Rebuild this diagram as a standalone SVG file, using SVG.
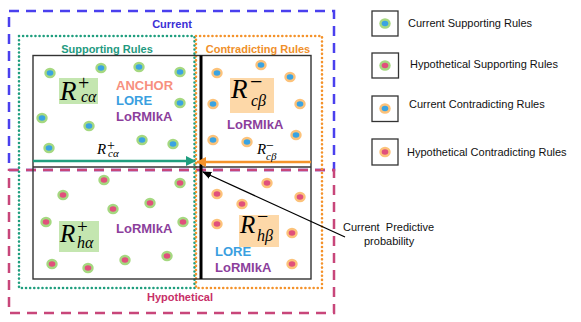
<svg xmlns="http://www.w3.org/2000/svg" width="581" height="322" viewBox="0 0 581 322">
<style>
.lbl{font-family:"Liberation Sans",Arial,sans-serif;font-weight:bold;font-size:11px}
.mth{font-family:"Liberation Serif","Times New Roman",serif;font-style:italic;fill:#000}
.op{font-style:normal}
.meth{font-family:"Liberation Sans",Arial,sans-serif;font-weight:bold;font-size:13px}
.leg{font-family:"Liberation Sans",Arial,sans-serif;font-size:11px;fill:#111}
.frame{fill:none;stroke:#333;stroke-width:1.4}
.dashB{fill:none;stroke:#4a40ee;stroke-width:2.5;stroke-dasharray:10 7}
.dashP{fill:none;stroke:#c8467a;stroke-width:2.5;stroke-dasharray:10 7}
.dotG{fill:none;stroke:#1f9e7e;stroke-width:2.6;stroke-linecap:round;stroke-dasharray:0.01 4.1}
.dotO{fill:none;stroke:#f4922a;stroke-width:2.6;stroke-linecap:round;stroke-dasharray:0.01 4.1}
.legbox{fill:#fff;stroke:#333;stroke-width:1.3}
</style>
<defs>
<g id="d-cs"><ellipse rx="5.7" ry="5.3" fill="#a5d880"/><ellipse rx="3.3" ry="2.7" fill="#3aa3e2"/></g>
<g id="d-hs"><ellipse rx="5.7" ry="5.3" fill="#a5d880"/><ellipse rx="3.3" ry="2.7" fill="#e0507c"/></g>
<g id="d-cc"><ellipse rx="5.7" ry="5.3" fill="#fcc27a"/><ellipse rx="3.3" ry="2.7" fill="#3aa3e2"/></g>
<g id="d-hc"><ellipse rx="5.7" ry="5.3" fill="#fcc27a"/><ellipse rx="3.3" ry="2.7" fill="#e0507c"/></g>
<marker id="ahG" viewBox="0 0 10 10" refX="9" refY="5" markerWidth="4" markerHeight="4" orient="auto" markerUnits="strokeWidth"><path d="M0,0 L10,5 L0,10 z" fill="#1f9e7e"/></marker>
<marker id="ahO" viewBox="0 0 10 10" refX="9" refY="5" markerWidth="4" markerHeight="4" orient="auto" markerUnits="strokeWidth"><path d="M0,0 L10,5 L0,10 z" fill="#f4922a"/></marker>
<marker id="ahK" viewBox="0 0 10 10" refX="9" refY="5" markerWidth="7" markerHeight="7" orient="auto" markerUnits="strokeWidth"><path d="M0,1 L10,5 L0,9 z" fill="#000"/></marker>
</defs>
<rect width="581" height="322" fill="#fff"/>

<g id="current-region">
<rect class="dashB" x="9" y="11" width="325" height="159"/>
<text class="lbl" x="172" y="28" text-anchor="middle" fill="#3b2fd6">Current</text>
</g>
<g id="hypothetical-region">
<rect class="dashP" x="9" y="170" width="325" height="143"/>
<text class="lbl" x="180" y="301" text-anchor="middle" fill="#c83068">Hypothetical</text>
</g>
<g id="supporting-region">
<rect class="dotG" x="19" y="36" width="175.5" height="252"/>
<text class="lbl" x="107" y="53" text-anchor="middle" fill="#1f9a80">Supporting Rules</text>
</g>
<g id="contradicting-region">
<rect class="dotO" x="196" y="36" width="126" height="252"/>
<text class="lbl" x="258" y="53" text-anchor="middle" fill="#f0902a">Contradicting Rules</text>
</g>

<g id="frame">
<rect class="frame" x="33" y="55.5" width="278" height="223.5"/>
<line x1="33" y1="167" x2="311" y2="167" stroke="#333" stroke-width="1.4"/>
<line x1="201" y1="55.5" x2="201" y2="279" stroke="#000" stroke-width="3"/>
</g>

<g id="current-supporting">
<use href="#d-cs" x="50" y="73"/>
<use href="#d-cs" x="101" y="68"/>
<use href="#d-cs" x="139" y="67"/>
<use href="#d-cs" x="180" y="72"/>
<use href="#d-cs" x="180" y="103"/>
<use href="#d-cs" x="42" y="118"/>
<use href="#d-cs" x="89" y="126"/>
<use href="#d-cs" x="49" y="148"/>
<use href="#d-cs" x="142" y="140"/>
<use href="#d-cs" x="173" y="144"/>
<rect x="59" y="78" width="39" height="26" fill="#c4e6b0"/>
<text class="mth" x="60" y="100" font-size="27">R<tspan class="op" x="78" y="90" font-size="20">+</tspan><tspan x="81" y="102" font-size="16">cα</tspan></text>
<text class="meth" x="116" y="90" fill="#f7907e">ANCHOR</text>
<text class="meth" x="116" y="105" fill="#3a9fe0">LORE</text>
<text class="meth" x="116" y="121" fill="#8c3f9c">LoRMIkA</text>
</g>

<g id="current-contradicting">
<use href="#d-cc" x="217" y="73"/>
<use href="#d-cc" x="261" y="65"/>
<use href="#d-cc" x="290" y="77"/>
<use href="#d-cc" x="213" y="104"/>
<use href="#d-cc" x="300" y="104"/>
<use href="#d-cc" x="213" y="140"/>
<use href="#d-cc" x="247" y="142"/>
<use href="#d-cc" x="296" y="135"/>
<rect x="230" y="78" width="44" height="35" fill="#fdd8a8"/>
<text class="mth" x="231" y="98" font-size="27">R<tspan class="op" x="250" y="89" font-size="22">−</tspan><tspan x="251" y="106" font-size="16">cβ</tspan></text>
<text class="meth" x="227" y="129" fill="#8c3f9c">LoRMIkA</text>
</g>

<g id="hypothetical-supporting">
<use href="#d-hs" x="104" y="180"/>
<use href="#d-hs" x="180" y="183"/>
<use href="#d-hs" x="63" y="195"/>
<use href="#d-hs" x="150" y="203"/>
<use href="#d-hs" x="113" y="209"/>
<use href="#d-hs" x="46" y="222"/>
<use href="#d-hs" x="183" y="222"/>
<use href="#d-hs" x="167" y="256"/>
<use href="#d-hs" x="52" y="264"/>
<use href="#d-hs" x="88" y="268"/>
<use href="#d-hs" x="125" y="260"/>
<rect x="59" y="221" width="40" height="31" fill="#c4e6b0"/>
<text class="mth" x="60" y="242" font-size="25">R<tspan class="op" x="77" y="233" font-size="19">+</tspan><tspan x="77" y="248" font-size="16">hα</tspan></text>
<text class="meth" x="116" y="233" fill="#8c3f9c">LoRMIkA</text>
</g>

<g id="hypothetical-contradicting">
<use href="#d-hc" x="267" y="183"/>
<use href="#d-hc" x="217" y="194"/>
<use href="#d-hc" x="300" y="197"/>
<use href="#d-hc" x="242" y="204"/>
<use href="#d-hc" x="217" y="224"/>
<use href="#d-hc" x="292" y="233"/>
<use href="#d-hc" x="292" y="264"/>
<rect x="239" y="215" width="40" height="32" fill="#fdd8a8"/>
<text class="mth" x="240" y="233" font-size="25">R<tspan class="op" x="257" y="223" font-size="20">−</tspan><tspan x="257" y="241" font-size="16">hβ</tspan></text>
<text class="meth" x="215" y="256" fill="#3a9fe0">LORE</text>
<text class="meth" x="215" y="272" fill="#8c3f9c">LoRMIkA</text>
</g>

<g id="connectors">
<line x1="33" y1="161" x2="195" y2="161" stroke="#1f9e7e" stroke-width="2.5" marker-end="url(#ahG)"/>
<line x1="311" y1="162" x2="197" y2="162" stroke="#f4922a" stroke-width="2.5" marker-end="url(#ahO)"/>
<line x1="345" y1="237" x2="203" y2="172" stroke="#000" stroke-width="1.3" marker-end="url(#ahK)"/>
<g id="arrow-labels">
<text class="mth" x="97" y="154" font-size="15">R<tspan class="op" x="107" y="150" font-size="14">+</tspan><tspan x="108" y="157" font-size="11">cα</tspan></text>
<text class="mth" x="257" y="154" font-size="15">R<tspan class="op" x="266" y="150" font-size="14">−</tspan><tspan x="266" y="160" font-size="11">cβ</tspan></text>
</g>
</g>

<g id="predictive-label">
<text class="leg" x="343" y="231" xml:space="preserve">Current  Predictive</text>
<text class="leg" x="364" y="245">probability</text>
</g>

<g id="legend">
<g id="legend-csr"><rect class="legbox" x="372" y="11" width="26" height="25"/><use href="#d-cs" x="385" y="23.5"/><text class="leg" x="408" y="27">Current Supporting Rules</text></g>
<g id="legend-hsr"><rect class="legbox" x="372" y="53" width="26.5" height="25"/><use href="#d-hs" x="385" y="65.5"/><text class="leg" x="410" y="68">Hypothetical Supporting Rules</text></g>
<g id="legend-ccr"><rect class="legbox" x="372" y="96" width="26" height="25.5"/><use href="#d-cc" x="385" y="108.5"/><text class="leg" x="409" y="108">Current Contradicting Rules</text></g>
<g id="legend-hcr"><rect class="legbox" x="372" y="139" width="26" height="26"/><use href="#d-hc" x="385" y="152"/><text class="leg" x="407" y="156">Hypothetical Contradicting Rules</text></g>
</g>
</svg>
